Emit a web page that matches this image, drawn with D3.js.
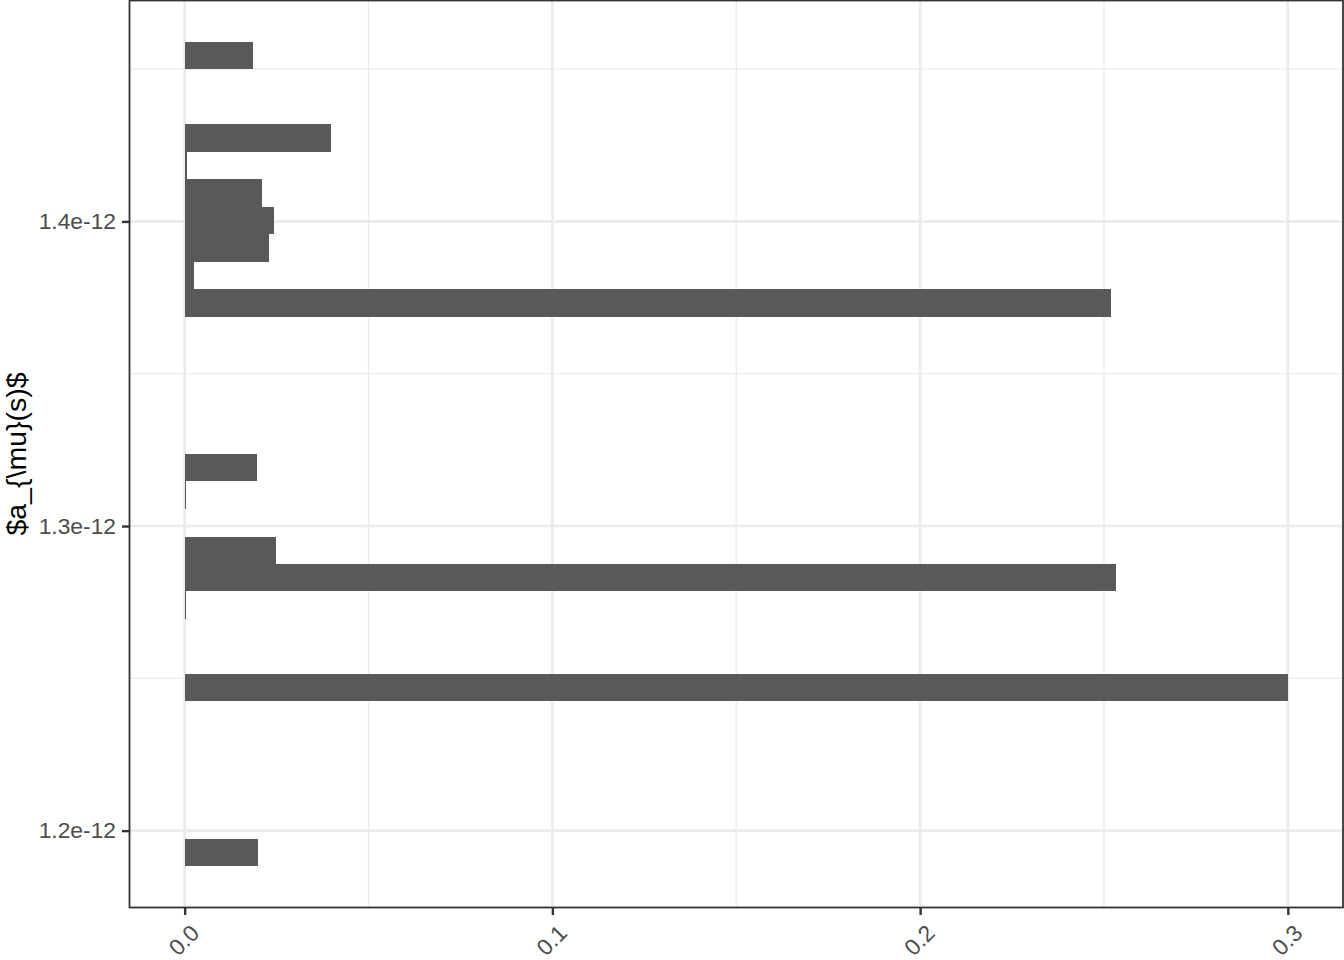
<!DOCTYPE html>
<html>
<head>
  <meta charset="UTF-8">
  <title>a_mu histogram</title>
  <style>
    body { margin: 0; background: #fff; }
    svg { display: block; font-family: "Liberation Sans", Arial, Helvetica, sans-serif; }
  </style>
</head>
<body>
  <svg width="1344" height="960"></svg>

  <script src="https://d3js.org/d3.v7.min.js"></script>
  <script>
    // Histogram bins (lower edge of each non-empty bin) and their density share
    const binLower = [1.18830e-12, 1.24243e-12, 1.26951e-12, 1.27852e-12, 1.28754e-12,
                      1.30561e-12, 1.31462e-12, 1.36875e-12, 1.37777e-12, 1.38679e-12,
                      1.39580e-12, 1.40485e-12, 1.41387e-12, 1.42289e-12, 1.44997e-12];
    const binWidth = 0.00902e-12;
    const share = [0.0200, 0.3000, 0.0003, 0.2533, 0.0249,
                   0.0003, 0.0198, 0.2520, 0.0026, 0.0230,
                   0.0244, 0.0209, 0.0007, 0.0399, 0.0187];

    const xTicks = [0, 0.1, 0.2, 0.3];
    const xTickLabels = ['0.0', '0.1', '0.2', '0.3'];
    const xMinor = [0.05, 0.15, 0.25];
    const yTicks = [1.2e-12, 1.3e-12, 1.4e-12];
    const yTickLabels = ['1.2e-12', '1.3e-12', '1.4e-12'];
    const yMinor = [1.25e-12, 1.35e-12, 1.45e-12];
    const yTitle = '$a_{\\mu}(s)$';

    const bins = binLower.map((lo, i) => ({ lo: lo, hi: lo + binWidth, v: share[i] }));

    // panel box
    const pLeft = 129.5, pRight = 1343, pTop = 0.5, pBottom = 907.5;

    // ggplot style 5% expansion
    const yLo = d3.min(bins, d => d.lo), yHi = d3.max(bins, d => d.hi);
    const yPad = (yHi - yLo) * 0.05;
    const xMax = d3.max(share);
    const xPad = xMax * 0.05;

    const x = d3.scaleLinear().domain([-xPad, xMax + xPad]).range([pLeft, pRight]);
    const y = d3.scaleLinear().domain([yLo - yPad, yHi + yPad]).range([pBottom, pTop]);

    const svg = d3.select('svg');

    // grid lines
    const grid = svg.append('g');
    grid.selectAll('.xminor').data(xMinor).enter().append('line')
      .attr('x1', d => x(d)).attr('x2', d => x(d))
      .attr('y1', pTop).attr('y2', pBottom)
      .attr('stroke', '#EBEBEB').attr('stroke-width', 1.3);
    grid.selectAll('.yminor').data(yMinor).enter().append('line')
      .attr('x1', pLeft).attr('x2', pRight)
      .attr('y1', d => y(d)).attr('y2', d => y(d))
      .attr('stroke', '#EBEBEB').attr('stroke-width', 1.3);
    grid.selectAll('.xmajor').data(xTicks).enter().append('line')
      .attr('x1', d => x(d)).attr('x2', d => x(d))
      .attr('y1', pTop).attr('y2', pBottom)
      .attr('stroke', '#EBEBEB').attr('stroke-width', 2.6);
    grid.selectAll('.ymajor').data(yTicks).enter().append('line')
      .attr('x1', pLeft).attr('x2', pRight)
      .attr('y1', d => y(d)).attr('y2', d => y(d))
      .attr('stroke', '#EBEBEB').attr('stroke-width', 2.6);

    // bars
    svg.append('g').selectAll('rect')
      .data(bins)
      .enter()
      .append('rect')
      .attr('x', x(0))
      .attr('y', d => y(d.hi))
      .attr('width', d => Math.max(1, x(d.v) - x(0)))
      .attr('height', d => y(d.lo) - y(d.hi))
      .attr('fill', '#595959')
      .attr('shape-rendering', 'crispEdges');

    // panel border
    svg.append('rect')
      .attr('x', pLeft).attr('y', pTop)
      .attr('width', pRight - pLeft).attr('height', pBottom - pTop)
      .attr('fill', 'none').attr('stroke', '#333333').attr('stroke-width', 1.8);

    // y axis
    const yAxis = d3.axisLeft(y)
      .tickValues(yTicks)
      .tickFormat((d, i) => yTickLabels[i])
      .tickSize(7.5)
      .tickPadding(6);
    const gy = svg.append('g')
      .attr('transform', `translate(${pLeft}, 0)`)
      .call(yAxis);
    gy.select('.domain').remove();
    gy.selectAll('.tick line').attr('stroke', '#333333').attr('stroke-width', 2.4);
    gy.selectAll('.tick text')
      .attr('fill', '#4D4D4D')
      .attr('font-size', '22.8px')
      .attr('font-family', '"Liberation Sans", Arial, sans-serif');

    // x axis
    const xAxis = d3.axisBottom(x)
      .tickValues(xTicks)
      .tickFormat((d, i) => xTickLabels[i])
      .tickSize(7.5);
    const gx = svg.append('g')
      .attr('transform', `translate(0, ${pBottom})`)
      .call(xAxis);
    gx.select('.domain').remove();
    gx.selectAll('.tick line').attr('stroke', '#333333').attr('stroke-width', 2.4);
    gx.selectAll('.tick text')
      .attr('fill', '#4D4D4D')
      .attr('font-size', '22.8px')
      .attr('font-family', '"Liberation Sans", Arial, sans-serif')
      .attr('text-anchor', 'end')
      .attr('y', 0)
      .attr('dy', '0.72em')
      .attr('transform', 'translate(4, 15.5) rotate(-45)');

    // y axis title
    svg.append('text')
      .attr('transform', `translate(26, ${(pTop + pBottom) / 2}) rotate(-90)`)
      .attr('text-anchor', 'middle')
      .attr('font-size', '28.5px')
      .attr('fill', '#000')
      .text(yTitle);
  </script>
</body>
</html>
